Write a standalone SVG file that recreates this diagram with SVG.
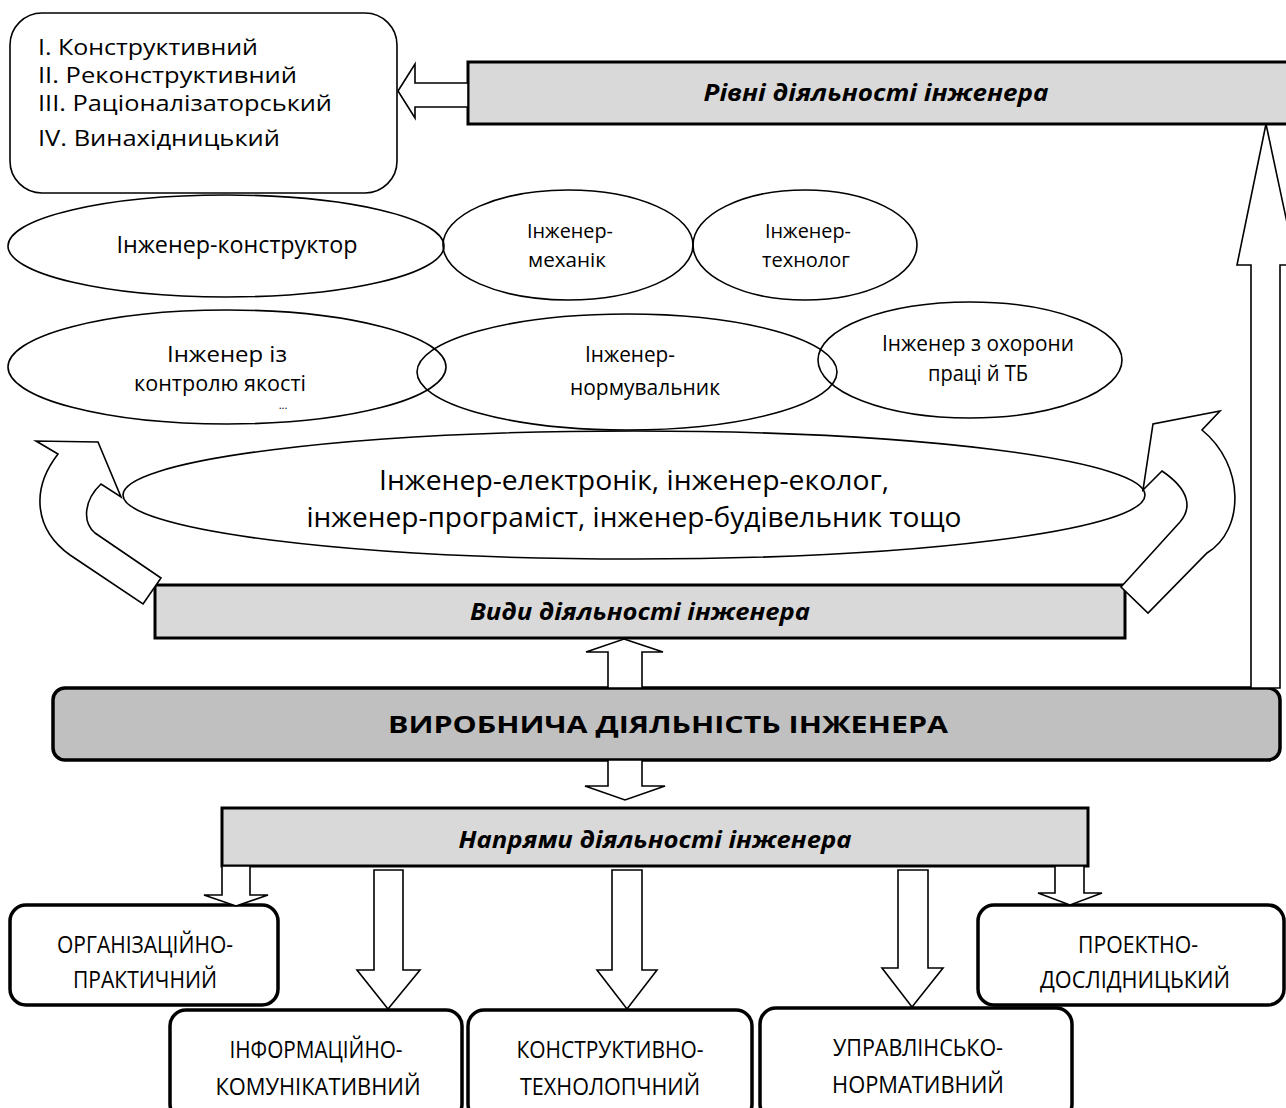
<svg xmlns="http://www.w3.org/2000/svg" width="1286" height="1108" viewBox="0 0 1286 1108">
<style>
.t{font-family:"Open Sans","Liberation Sans",sans-serif;fill:#000}
.ti{font-family:"Open Sans","Liberation Sans",sans-serif;font-weight:bold;font-style:italic;font-size:23px;fill:#000}
.tc{font-family:"Open Sans","Liberation Sans",sans-serif;font-size:24px;fill:#000}
.ell{fill:none;stroke:#000;stroke-width:1.6}
.bar{fill:#d9d9d9;stroke:#000;stroke-width:3}
.arr{fill:#fff;stroke:#000;stroke-width:1.6}
.dir{fill:#fff;stroke:#000;stroke-width:3.5}
</style>
<rect width="1286" height="1108" fill="#fff"/>

<g id="levels-list">
<rect x="10" y="13" width="387" height="180" rx="32" fill="#fff" stroke="#000" stroke-width="1.6"/>
<text class="t" font-size="22" x="38" y="55" textLength="220" lengthAdjust="spacingAndGlyphs">I. Конструктивний</text>
<text class="t" font-size="22" x="38" y="83" textLength="259" lengthAdjust="spacingAndGlyphs">II. Реконструктивний</text>
<text class="t" font-size="22" x="38" y="111" textLength="294" lengthAdjust="spacingAndGlyphs">III. Раціоналізаторський</text>
<text class="t" font-size="22" x="38" y="146" textLength="242" lengthAdjust="spacingAndGlyphs">IV. Винахідницький</text>
</g>

<g id="levels">
<rect class="bar" x="468" y="62" width="830" height="62"/>
<text class="ti" x="876" y="101" text-anchor="middle" textLength="345" lengthAdjust="spacingAndGlyphs">Рівні діяльності інженера</text>
</g>

<g id="e-konstruktor">
<ellipse class="ell" cx="226" cy="246" rx="218" ry="51"/>
<text class="t" font-size="23" x="237" y="253" text-anchor="middle" textLength="241" lengthAdjust="spacingAndGlyphs">Інженер-конструктор</text>
</g>
<g id="e-mekhanik">
<ellipse class="ell" cx="568" cy="245" rx="125" ry="55"/>
<text class="t" font-size="20" x="570" y="238" text-anchor="middle" textLength="86" lengthAdjust="spacingAndGlyphs">Інженер-</text>
<text class="t" font-size="20" x="567" y="267" text-anchor="middle" textLength="78" lengthAdjust="spacingAndGlyphs">механік</text>
</g>
<g id="e-tekhnolog">
<ellipse class="ell" cx="805" cy="245" rx="112" ry="55"/>
<text class="t" font-size="20" x="808" y="238" text-anchor="middle" textLength="86" lengthAdjust="spacingAndGlyphs">Інженер-</text>
<text class="t" font-size="20" x="806" y="267" text-anchor="middle" textLength="88" lengthAdjust="spacingAndGlyphs">технолог</text>
</g>
<g id="e-kontrol">
<ellipse class="ell" cx="227" cy="367" rx="219" ry="57"/>
<text class="t" font-size="21" x="227" y="362" text-anchor="middle" textLength="120" lengthAdjust="spacingAndGlyphs">Інженер із</text>
<text class="t" font-size="21" x="220" y="391" text-anchor="middle" textLength="172" lengthAdjust="spacingAndGlyphs">контролю якості</text>
<text class="t" font-size="11" x="283" y="409" text-anchor="middle">...</text>
</g>
<g id="e-normuvalnyk">
<ellipse class="ell" cx="627" cy="372" rx="210" ry="58"/>
<text class="t" font-size="22" x="630" y="362" text-anchor="middle" textLength="90" lengthAdjust="spacingAndGlyphs">Інженер-</text>
<text class="t" font-size="22" x="645" y="395" text-anchor="middle" textLength="150" lengthAdjust="spacingAndGlyphs">нормувальник</text>
</g>
<g id="e-okhorona">
<ellipse class="ell" cx="970" cy="360" rx="152" ry="58"/>
<text class="t" font-size="21" x="978" y="351" text-anchor="middle" textLength="192" lengthAdjust="spacingAndGlyphs">Інженер з охорони</text>
<text class="t" font-size="21" x="978" y="381" text-anchor="middle" textLength="100" lengthAdjust="spacingAndGlyphs">праці й ТБ</text>
</g>
<g id="e-other">
<ellipse class="ell" cx="634" cy="495" rx="511" ry="64"/>
<text class="t" font-size="27" x="634" y="490" text-anchor="middle" textLength="510" lengthAdjust="spacingAndGlyphs">Інженер-електронік, інженер-еколог,</text>
<text class="t" font-size="27" x="634" y="527" text-anchor="middle" textLength="655" lengthAdjust="spacingAndGlyphs">інженер-програміст, інженер-будівельник тощо</text>
</g>

<g id="kinds">
<rect class="bar" x="155" y="585" width="970" height="53"/>
<text class="ti" x="640" y="620" text-anchor="middle" textLength="340" lengthAdjust="spacingAndGlyphs">Види діяльності інженера</text>
</g>

<g id="production">
<rect x="53" y="688" width="1227" height="72" rx="12" fill="#c0c0c0" stroke="#000" stroke-width="3.5"/>
<text class="t" font-size="23" font-weight="bold" x="668" y="733" text-anchor="middle" textLength="560" lengthAdjust="spacingAndGlyphs">ВИРОБНИЧА ДІЯЛЬНІСТЬ ІНЖЕНЕРА</text>
</g>

<g id="directions">
<rect class="bar" x="222" y="808" width="866" height="58"/>
<text class="ti" x="655" y="848" text-anchor="middle" textLength="393" lengthAdjust="spacingAndGlyphs">Напрями діяльності інженера</text>
</g>

<g id="d-org">
<rect class="dir" x="10" y="905" width="268" height="100" rx="16"/>
<text class="tc" x="145" y="953" text-anchor="middle" textLength="176" lengthAdjust="spacingAndGlyphs">ОРГАНІЗАЦІЙНО-</text>
<text class="tc" x="145" y="988" text-anchor="middle" textLength="144" lengthAdjust="spacingAndGlyphs">ПРАКТИЧНИЙ</text>
</g>
<g id="d-inf">
<rect class="dir" x="170" y="1010" width="292" height="110" rx="16"/>
<text class="tc" x="316" y="1058" text-anchor="middle" textLength="173" lengthAdjust="spacingAndGlyphs">ІНФОРМАЦІЙНО-</text>
<text class="tc" x="318" y="1095" text-anchor="middle" textLength="205" lengthAdjust="spacingAndGlyphs">КОМУНІКАТИВНИЙ</text>
</g>
<g id="d-kon">
<rect class="dir" x="468" y="1010" width="284" height="110" rx="16"/>
<text class="tc" x="610" y="1058" text-anchor="middle" textLength="187" lengthAdjust="spacingAndGlyphs">КОНСТРУКТИВНО-</text>
<text class="tc" x="610" y="1095" text-anchor="middle" textLength="180" lengthAdjust="spacingAndGlyphs">ТЕХНОЛОПЧНИЙ</text>
</g>
<g id="d-upr">
<rect class="dir" x="760" y="1008" width="312" height="112" rx="16"/>
<text class="tc" x="918" y="1056" text-anchor="middle" textLength="170" lengthAdjust="spacingAndGlyphs">УПРАВЛІНСЬКО-</text>
<text class="tc" x="918" y="1093" text-anchor="middle" textLength="172" lengthAdjust="spacingAndGlyphs">НОРМАТИВНИЙ</text>
</g>
<g id="d-proekt">
<rect class="dir" x="978" y="905" width="306" height="100" rx="16"/>
<text class="tc" x="1138" y="953" text-anchor="middle" textLength="120" lengthAdjust="spacingAndGlyphs">ПРОЕКТНО-</text>
<text class="tc" x="1135" y="988" text-anchor="middle" textLength="190" lengthAdjust="spacingAndGlyphs">ДОСЛІДНИЦЬКИЙ</text>
</g>

<g id="connectors">
<polygon class="arr" points="398,91 415,64 415,83 468,83 468,107 415,107 415,118"/>
<polygon class="arr" points="1266,124 1296,265 1280,265 1280,688 1251,688 1251,265 1237,265"/>
<path class="arr" d="M143,604 L161,578 L95,533 C82,522 84,500 101,484 L121,497 L98,442 L36,441 L58,454 C30,490 35,530 70,555 Z"/>
<path class="arr" d="M1121,587 L1180,522 C1192,508 1190,490 1162,471 L1143,490 L1153,424 L1220,411 L1202,430 C1245,465 1245,530 1207,553 L1148,613 Z"/>
<polygon class="arr" points="624,639 663,652 642,652 642,688 608,688 608,652 586,652"/>
<polygon class="arr" points="608,760 642,760 642,786 665,786 625,800 585,786 608,786"/>
<polygon class="arr" points="222,866 250,866 250,895 268,895 236,906 204,895 222,895"/>
<polygon class="arr" points="374,870 403,870 403,970 420,970 388,1009 357,970 374,970"/>
<polygon class="arr" points="612,870 642,870 642,970 657,970 627,1009 597,970 612,970"/>
<polygon class="arr" points="898,870 928,870 928,968 943,968 912,1007 882,968 898,968"/>
<polygon class="arr" points="1055,866 1084,866 1084,893 1102,893 1070,905 1038,893 1055,893"/>
</g>
</svg>
